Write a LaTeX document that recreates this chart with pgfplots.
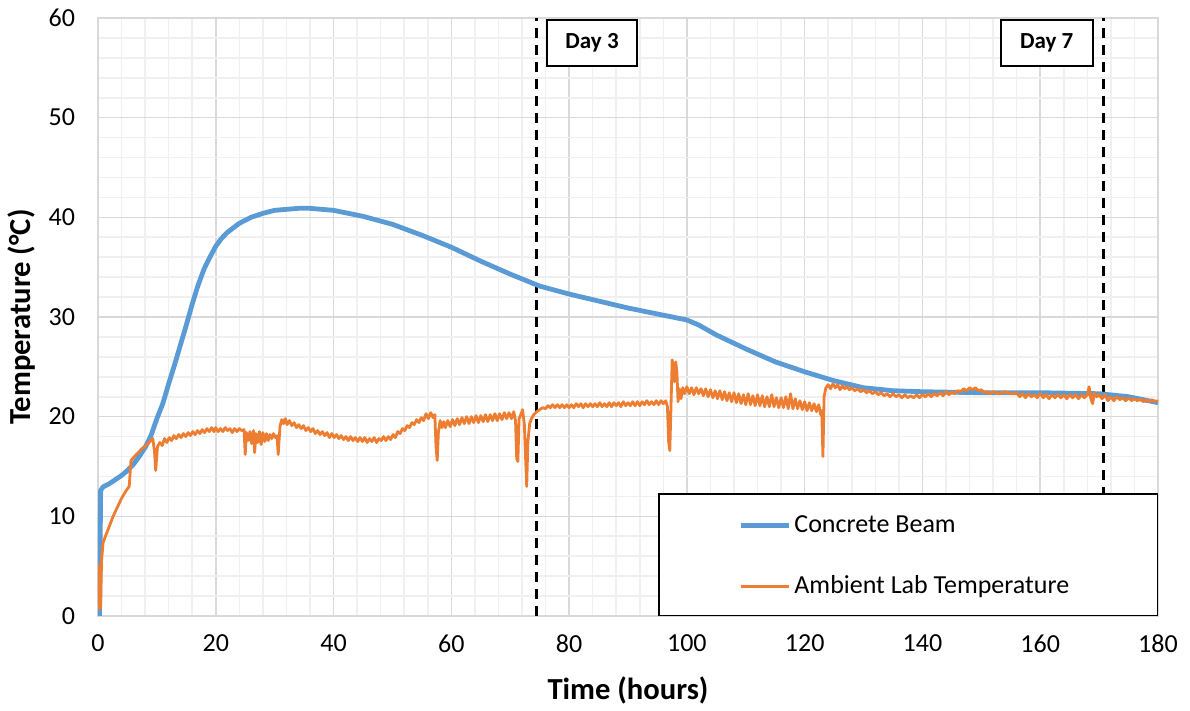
\documentclass[border=0pt]{standalone}
\usepackage{pgfplots}
\pgfplotsset{compat=1.18}
\usepackage{fontspec}
\setmainfont{Carlito}
\definecolor{cblue}{HTML}{5B9BD5}
\definecolor{corange}{HTML}{ED7D31}
\definecolor{gmajor}{HTML}{D9D9D9}
\definecolor{gminor}{HTML}{F0F0F0}
\begin{document}
\begin{tikzpicture}
\begin{axis}[
  scale only axis,
  width=530pt, height=299pt,
  xmin=0, xmax=180, ymin=0, ymax=60,
  xtick={0,20,...,180}, ytick={0,10,...,60},
  minor x tick num=4, minor y tick num=4,
  grid=both,
  major grid style={gmajor, line width=0.8pt},
  minor grid style={gminor, line width=0.8pt},
  axis line style={gmajor, line width=0.8pt},
  major tick length=0pt, minor tick length=0pt,
  /pgf/number format/assume math mode=true,
  tick label style={font=\fontsize{13}{15}\selectfont},
  xticklabel style={yshift=-6pt},
  yticklabel style={xshift=-8pt},
  xlabel={\textbf{Time (hours)}},
  ylabel={\textbf{Temperature (°C)}},
  label style={font=\fontsize{15.3}{17}\selectfont},
  xlabel style={at={(axis description cs:0.5,0)}, anchor=center, yshift=-37pt},
  ylabel style={at={(axis description cs:-0.0717,0.5)}, anchor=center},
  legend style={draw=none, fill=none, at={(axis cs:107.7,6.0)}, anchor=west,
    font=\fontsize{13}{15}\selectfont, row sep=17pt,
    nodes={inner sep=1.5pt}},
  legend cell align=left,
  legend image code/.code={\draw[#1] (0pt,0pt) -- (24pt,0pt);},
]
% dashed day markers
\draw[black, line width=1.6pt, dash pattern=on 5pt off 3.5pt] (axis cs:74.5,0) -- (axis cs:74.5,60);
\draw[black, line width=1.6pt, dash pattern=on 5pt off 3.5pt] (axis cs:170.7,0) -- (axis cs:170.7,60);

\addplot[cblue, line width=2.4pt, line join=round] coordinates {
(0,5.4) (0.25,0) (0.45,12.6) (0.8,12.9) (1,13.0) (2,13.3) (3,13.7) (4,14.1) (5,14.6)
(6,15.2) (7,16.0) (8,16.9) (9,18.1) (10,19.8) (11,21.3) (12,23.3) (13,25.2)
(14,27.2) (15,29.2) (16,31.3) (17,33.2) (18,34.8) (19,36.0) (20,37.1) (21,37.9)
(22,38.5) (24,39.4) (26,40.0) (28,40.4) (30,40.7) (32,40.8) (34,40.9) (36,40.9)
(38,40.8) (40,40.7) (45,40.1) (50,39.3) (55,38.2) (60,37.0) (65,35.6) (70,34.3)
(75,33.1) (80,32.3) (85,31.6) (90,30.9) (95,30.3) (100,29.7) (102,29.2) (105,28.2)
(110,26.8) (115,25.5) (120,24.5) (125,23.6) (130,22.9) (135,22.6) (140,22.5)
(150,22.4) (160,22.4) (170,22.3) (175,22.0) (180,21.4)
};
\addlegendentry{Concrete Beam}

\addplot[corange, line width=1.4pt, line join=round] coordinates {
(0,5.3) (0.15,2.0) (0.3,0.7) (0.45,0.9) (0.6,5.5) (0.85,7.3) (1.2,7.9) (1.8,8.8) (2.5,9.9)
(3.2,10.8) (4.0,11.8) (4.8,12.6) (5.3,13.0) (5.6,15.6) (6.5,16.2) (7.5,16.8)
(8.5,17.3) (9.3,17.8) (9.6,16.5) (9.8,14.6) (10.1,17.0)
(10.5,17.4) (10.9,17.1) (11.3,17.8) (11.7,17.4) (12.1,17.9) (12.5,17.6) (12.9,18.1) (13.3,17.8) (13.7,18.2) (14.1,17.9) (14.5,18.3) (14.9,18.0) (15.3,18.4) (15.7,18.1) (16.1,18.5) (16.5,18.2) (16.9,18.6) (17.3,18.3) (17.7,18.7) (18.1,18.4) (18.5,18.8) (18.9,18.5) (19.3,18.9) (19.7,18.5)
(20.0,18.9) (20.4,18.5) (20.8,18.8) (21.2,18.5) (21.6,18.9) (22.0,18.6) (22.4,18.8) (22.8,18.4) (23.2,18.8) (23.6,18.5) (24.0,18.8) (24.4,18.6) (24.8,18.7) (25.0,16.2) (25.2,18.4)
(25.5,17.6) (25.8,18.5) (26.1,17.3) (26.4,18.6) (26.6,16.4) (26.8,18.3) (27.1,17.4) (27.4,18.5) (27.7,17.2) (28.0,18.4) (28.3,17.5) (28.6,18.3) (28.9,17.6) (29.2,18.2) (29.5,17.8) (29.8,18.3) (30.1,17.9) (30.4,18.1) (30.6,16.2) (30.9,19.0) (31.2,19.7) (31.5,19.3) (31.8,19.8) (32.1,19.2) (32.5,19.6) (32.9,19.1) (33.3,19.4) (33.7,18.9) (34.1,19.2) (34.5,18.8) (34.9,19.1) (35.3,18.6) (35.7,18.9) (36.1,18.5) (36.5,18.8) (36.9,18.3) (37.3,18.6) (37.7,18.2) (38.1,18.5) (38.5,18.1) (38.9,18.4) (39.3,17.9) (39.7,18.3) (40.1,17.9) (40.5,18.2) (40.9,17.8) (41.3,18.1) (41.7,17.7) (42.1,18.0) (42.5,17.6) (42.9,18.0) (43.3,17.6) (43.7,17.9) (44.1,17.5) (44.5,17.9) (44.9,17.5) (45.3,17.9) (45.7,17.4) (46.1,17.8) (46.5,17.5) (46.9,17.9) (47.3,17.4) (47.7,17.8) (48.1,17.6) (48.5,18.0) (48.9,17.6) (49.3,18.0) (49.7,17.7) (50.1,18.2) (50.5,17.9) (50.9,18.5) (51.3,18.3) (51.7,18.8) (52.1,18.6) (52.5,19.1) (52.9,18.9) (53.3,19.4) (53.7,19.2) (54.1,19.7) (54.5,19.4) (54.9,19.9) (55.3,19.6) (55.7,20.3) (56.1,19.8) (56.5,20.4) (56.9,19.9) (57.2,20.2) (57.4,17.0) (57.6,15.6) (57.8,18.4) (58.1,19.6) (58.4,18.9)
(58.7,19.5) (59.0,18.9) (59.4,19.6) (59.8,19.0) (60.2,19.7) (60.6,19.1) (61.0,19.8) (61.4,19.2) (61.8,19.9) (62.2,19.3) (62.6,20.0) (63.0,19.3) (63.4,20.0) (63.8,19.4) (64.2,20.1) (64.6,19.4) (65.0,20.1) (65.4,19.5) (65.8,20.2) (66.2,19.5) (66.6,20.2) (67.0,19.6) (67.4,20.3) (67.8,19.6) (68.2,20.3) (68.6,19.7) (69.0,20.4) (69.4,19.8) (69.8,20.4) (70.2,19.8) (70.6,20.5) (70.9,19.6) (71.1,15.8) (71.3,15.5) (71.5,19.8) (71.8,20.2) (72.1,20.7) (72.4,19.2) (72.6,16.0) (72.8,13.0) (73.0,17.5) (73.3,19.3) (73.6,19.8) (74.0,20.2) (74.5,20.5) (75.0,20.7) (75.5,20.9)
(76.0,20.8) (76.4,21.1) (76.8,20.9) (77.2,21.2) (77.6,20.9) (78.0,21.2) (78.4,20.9) (78.8,21.2) (79.2,20.9) (79.6,21.2) (80.0,20.9) (80.4,21.2) (80.8,20.9) (81.2,21.3) (81.6,21.0) (82.0,21.3) (82.4,20.9) (82.8,21.3) (83.2,21.0) (83.6,21.3) (84.0,21.0) (84.4,21.3) (84.8,21.0) (85.2,21.4) (85.6,21.0) (86.0,21.3) (86.4,21.0) (86.8,21.4) (87.2,21.0) (87.6,21.4) (88.0,21.1) (88.4,21.4) (88.8,21.0) (89.2,21.5) (89.6,21.1) (90.0,21.4) (90.4,21.1) (90.8,21.5) (91.2,21.1) (91.6,21.5) (92.0,21.1) (92.4,21.5) (92.8,21.2) (93.2,21.6) (93.6,21.2) (94.0,21.5) (94.4,21.2) (94.8,21.6) (95.2,21.2) (95.6,21.6) (96.0,21.3) (96.4,21.6) (96.7,21.0) (96.9,17.5) (97.1,16.6) (97.3,21.0) (97.5,25.7) (97.7,25.0) (97.9,23.5) (98.1,25.5) (98.3,24.5) (98.5,21.5) (98.7,22.8) (99.0,21.8) (99.3,22.9)
(99.6,22.3) (100.0,23.0) (100.4,22.3) (100.8,22.9) (101.2,22.2) (101.6,22.9) (102.0,22.3) (102.4,22.8) (102.8,22.1) (103.2,22.8) (103.6,22.0) (104.0,22.7) (104.4,21.9) (104.8,22.6) (105.2,21.8) (105.6,22.6) (106.0,21.7) (106.4,22.5) (106.8,21.6) (107.2,22.4) (107.6,21.5) (108.0,22.4) (108.4,21.4) (108.8,22.3) (109.2,21.3) (109.6,22.2) (110.0,21.2) (110.4,22.3) (110.8,21.2) (111.2,22.1) (111.6,21.1) (112.0,22.2) (112.4,21.1) (112.8,22.1) (113.2,21.0) (113.6,22.0) (114.0,21.0) (114.4,22.2) (114.8,21.0) (115.2,21.9) (115.6,20.9) (116.0,21.9) (116.4,20.9) (116.8,22.0) (117.2,20.8) (117.6,22.3) (118.0,20.8) (118.4,21.8) (118.8,20.8) (119.2,21.6) (119.6,20.7) (120.0,21.5) (120.4,20.6) (120.8,21.4) (121.2,20.6) (121.6,21.3) (122.0,20.5) (122.4,21.2) (122.7,20.2) (122.9,20.6) (123.1,16.0) (123.3,22.0) (123.6,22.9)
(124.0,23.2) (124.4,22.8) (124.8,23.3) (125.2,22.9) (125.6,23.2) (126.0,22.7) (126.4,23.1) (126.8,22.8) (127.2,23.0) (127.6,22.7) (128.0,22.9) (128.5,22.6) (129.0,22.8) (129.5,22.5) (130.0,22.7) (130.5,22.4) (131.0,22.6) (131.5,22.3) (132.0,22.5) (132.5,22.2) (133.0,22.4) (133.5,22.1) (134.0,22.3) (134.5,22.0) (135.0,22.3) (135.5,22.0) (136.0,22.2) (136.5,21.9) (137.0,22.2) (137.5,21.9) (138.0,22.1) (138.5,21.9) (139.0,22.2) (139.5,21.9) (140.0,22.2) (140.5,22.0) (141.0,22.3) (141.5,22.0) (142.0,22.3) (142.5,22.1) (143.0,22.4) (143.5,22.1) (144.0,22.5) (144.5,22.2) (145.0,22.5) (145.5,22.3) (146.0,22.6) (146.5,22.5) (147.0,22.8) (147.5,22.6) (148.0,22.9) (148.5,22.7) (149.0,22.9) (149.5,22.6) (150.0,22.7) (150.5,22.4) (151.0,22.5) (151.5,22.3) (152.0,22.5) (153.0,22.3) (154.0,22.5) (155.0,22.3) (156.0,22.4) (156.5,22.0) (157.0,22.3) (157.5,21.9) (158.0,22.3) (158.5,22.0) (159.0,22.2) (159.5,21.9) (160.0,22.3) (160.5,21.9) (161.0,22.2) (161.5,21.8) (162.0,22.2) (162.5,21.9) (163.0,22.2) (163.5,21.9) (164.0,22.2) (164.5,21.8) (165.0,22.2) (165.5,21.9) (166.0,22.2) (166.5,21.8) (167.0,22.2) (167.5,21.9) (168.0,22.2) (168.3,23.0) (168.6,21.8) (168.9,21.3) (169.2,22.4) (169.6,22.0) (170.0,22.2) (170.5,21.8) (171.0,22.2) (171.5,21.6) (172.0,22.0) (172.5,21.6) (173.0,22.0) (173.5,21.7) (174.0,21.9) (174.5,21.6) (175.0,21.9) (175.5,21.6) (176.0,21.8) (176.5,21.6) (177.0,21.8) (177.5,21.5) (178.0,21.7) (178.5,21.5) (179.0,21.7) (179.5,21.5) (180.0,21.6)
};
\addlegendentry{Ambient Lab Temperature}

% day labels
\node[draw=black, fill=white, line width=0.9pt, minimum width=45pt, minimum height=23pt,
  font=\fontsize{11.5}{13}\selectfont\bfseries] at (axis cs:83.9,57.5) {Day 3};
\node[draw=black, fill=white, line width=0.9pt, minimum width=46pt, minimum height=23pt,
  font=\fontsize{11.5}{13}\selectfont\bfseries] at (axis cs:161.1,57.5) {Day 7};
% legend box
\draw[black, line width=0.9pt, fill=white] (axis cs:95.3,0) rectangle (axis cs:179.9,12.2);
\end{axis}
\path (current axis.south west) ++(-49pt,-47.5pt) (current axis.north east) ++(16pt,9pt);
\end{tikzpicture}
\end{document}
